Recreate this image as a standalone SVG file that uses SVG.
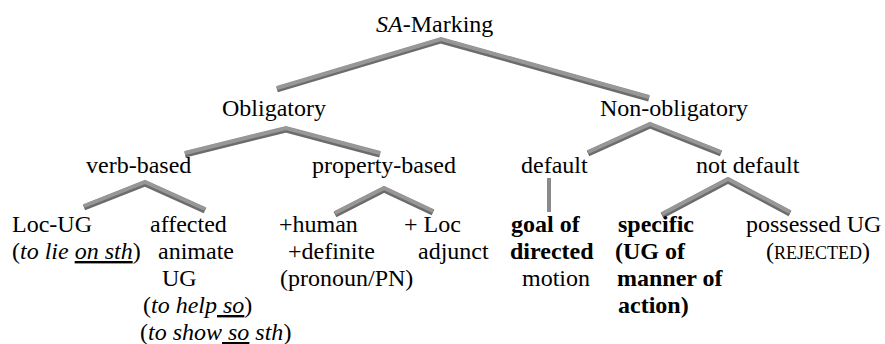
<svg xmlns="http://www.w3.org/2000/svg" width="885" height="344" viewBox="0 0 885 344" font-family="'Liberation Serif', serif">
  <style>
    text { font-family: "Liberation Serif", serif; font-size: 24px; fill: #000; }
    .it { font-style: italic; }
    .b { font-weight: bold; }
    .u { text-decoration: underline; }
    .sc { font-size: 18px; }
    .bar-shade { fill: none; stroke: #6c6c6c; stroke-width: 6; stroke-linejoin: miter; stroke-linecap: butt; }
    .bar-face { fill: none; stroke: #979797; stroke-width: 4; stroke-linejoin: miter; stroke-linecap: butt; }
    .stem { fill: none; stroke: #8a8a8a; stroke-width: 4; }
  </style>

  <!-- connectors: shaded bars, a dark lower edge under a lighter face -->
  <g id="connectors">
    <g transform="translate(0,1.5)">
      <polyline class="bar-shade" points="277,88 441,39 649,97"/>
      <polyline class="bar-shade" points="185,153 286,128 380,153"/>
      <polyline class="bar-shade" points="588,152 650,124 721,152"/>
      <polyline class="bar-shade" points="84,206 145,182 205,209"/>
      <polyline class="bar-shade" points="335,213 384,188 433,211"/>
      <polyline class="bar-shade" points="662,214 728,179 790,212"/>
    </g>
    <polyline class="bar-face" points="277,88 441,39 649,97"/>
    <polyline class="bar-face" points="185,153 286,128 380,153"/>
    <polyline class="bar-face" points="588,152 650,124 721,152"/>
    <polyline class="bar-face" points="84,206 145,182 205,209"/>
    <polyline class="bar-face" points="335,213 384,188 433,211"/>
    <polyline class="bar-face" points="662,214 728,179 790,212"/>
    <line class="stem" x1="549" y1="178" x2="549" y2="212"/>
  </g>

  <g id="sa-marking">
    <text x="376" y="32"><tspan class="it">SA</tspan>-Marking</text>
  </g>

  <g id="obligatory">
    <text x="222" y="116">Obligatory</text>
  </g>

  <g id="non-obligatory">
    <text x="600" y="116">Non-obligatory</text>
  </g>

  <g id="verb-based">
    <text x="86" y="173">verb-based</text>
  </g>

  <g id="property-based">
    <text x="312" y="173">property-based</text>
  </g>

  <g id="default">
    <text x="521" y="173">default</text>
  </g>

  <g id="not-default">
    <text x="696" y="173">not default</text>
  </g>

  <g id="loc-ug">
    <text x="12" y="232">Loc-UG</text>
    <text x="12" y="259">(<tspan class="it">to lie </tspan><tspan class="it u">on sth</tspan>)</text>
  </g>

  <g id="affected-animate-ug">
    <text x="150" y="232">affected</text>
    <text x="158" y="259">animate</text>
    <text x="162" y="286">UG</text>
    <text x="143" y="313">(<tspan class="it">to help</tspan><tspan class="it u"> so</tspan>)</text>
    <text x="140" y="340">(<tspan class="it">to show</tspan><tspan class="it u"> so</tspan><tspan class="it"> sth</tspan>)</text>
  </g>

  <g id="human-definite">
    <text x="279" y="232">+human</text>
    <text x="288" y="259">+definite</text>
    <text x="280" y="286">(pronoun/PN)</text>
  </g>

  <g id="loc-adjunct">
    <text x="404" y="232">+ Loc</text>
    <text x="418" y="259">adjunct</text>
  </g>

  <g id="goal-of-directed-motion">
    <text x="511" y="232" class="b">goal of</text>
    <text x="510" y="259" class="b">directed</text>
    <text x="522" y="286">motion</text>
  </g>

  <g id="specific">
    <text x="618" y="232" class="b">specific</text>
    <text x="615" y="259" class="b">(UG of</text>
    <text x="617" y="286" class="b">manner of</text>
    <text x="618" y="313" class="b">action)</text>
  </g>

  <g id="possessed-ug">
    <text x="746" y="232">possessed UG</text>
    <text x="766" y="259">(<tspan class="sc">REJECTED</tspan>)</text>
  </g>
</svg>
